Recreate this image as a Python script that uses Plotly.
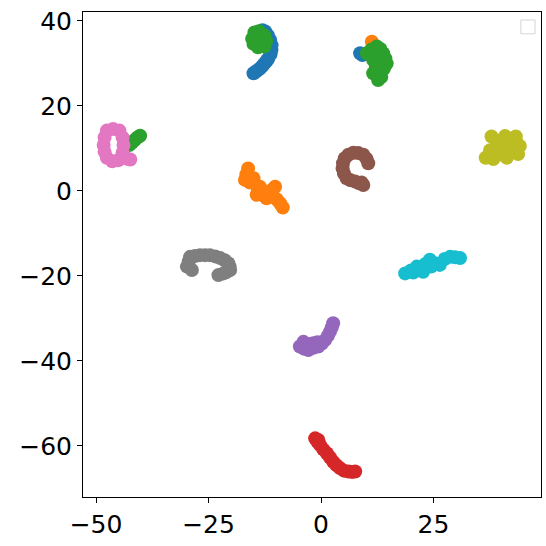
import plotly.graph_objects as go

# cluster point coordinates (t-SNE embedding)
blue_x = [-15.0, -14.6, -14.2, -13.7, -13.2, -12.8, -12.4, -12.0, -11.7, -11.2, -11.0, -11.0, -11.3, -11.8, -12.4, -13.0, 8.7, 9.2]
blue_y = [27.7, 28.0, 28.3, 28.7, 29.2, 29.7, 30.2, 30.7, 31.2, 32.2, 33.2, 34.3, 35.5, 36.6, 37.5, 37.8, 32.4, 32.0]

orange_x = [-16.2, -16.6, -16.9, -15.0, -15.8, -13.6, -14.3, -14.0, -12.1, -13.0, -10.2, -11.0, -10.6, -9.1, -9.8, -8.5, -11.5, -12.6, 11.3]
orange_y = [5.3, 3.9, 2.6, 3.0, 2.0, 1.0, -0.9, 0.2, -1.7, -0.5, 1.0, 0.2, -1.3, -2.9, -2.0, -3.9, -0.6, -1.2, 35.1]

green_x = [-14.8, -13.8, -12.6, -15.3, -15.0, -14.0, -12.6, -12.2,
           10.2, 11.1, 12.4, 13.2, 13.8, 14.6, 14.3, 13.1, 11.6, 11.6, 13.1, 14.0, 11.6, 12.7, 12.2, 12.6, 13.4,
           -42.6, -42.0, -41.4, -40.8, -40.2]
green_y = [37.3, 37.6, 36.6, 35.8, 34.6, 33.8, 34.0, 35.3,
           32.4, 33.2, 34.0, 33.4, 32.4, 30.0, 31.2, 30.8, 30.8, 32.0, 28.5, 28.8, 27.7, 26.1, 29.2, 27.0, 26.8,
           10.8, 11.4, 12.0, 12.6, 13.0]

red_x = [-1.3, -0.8, -0.2, 0.5, 1.3, 2.0, 2.7, 3.4, 4.2, 5.1, 6.1, 6.9, 7.6, -0.6]
red_y = [-58.2, -59.0, -59.8, -60.8, -61.7, -62.7, -63.7, -64.5, -65.2, -65.8, -66.0, -66.1, -66.0, -58.6]

purple_x = [2.7, 2.4, 2.0, 1.5, 0.9, 0.2, -0.6, -1.7, -2.8, -3.8, -4.7, -3.9, -1.7, -2.8, -0.8]
purple_y = [-31.1, -32.1, -33.1, -34.1, -35.1, -35.9, -36.6, -36.9, -37.4, -37.1, -36.6, -35.5, -35.8, -36.0, -35.6]

brown_x = [10.5, 10.1, 9.4, 8.3, 7.2, 6.1, 5.3, 4.9, 4.8, 5.1, 5.7, 6.6, 7.6, 8.5, 9.4, 9.0]
brown_y = [6.5, 7.6, 8.5, 8.9, 9.0, 8.5, 7.7, 6.5, 5.3, 4.1, 3.0, 2.5, 2.2, 1.8, 1.4, 2.0]

pink_x = [-47.6, -46.2, -44.8, -44.1, -43.9, -44.1, -45.1, -46.4, -47.6, -43.2, -42.4, -48.1, -48.3, -48.1]
pink_y = [14.2, 14.6, 14.2, 12.6, 10.8, 9.0, 7.2, 7.0, 7.8, 7.6, 7.4, 12.6, 10.8, 9.2]

gray_x = [-29.8, -29.4, -29.1, -28.0, -26.9, -25.8, -24.7, -23.5, -22.4, -21.4, -20.6, -20.3, -20.2, -21.0, -21.7, -22.8, -28.7]
gray_y = [-17.8, -16.6, -15.5, -15.3, -15.1, -15.1, -15.1, -15.4, -15.8, -16.3, -17.0, -17.8, -18.6, -19.1, -19.4, -19.8, -18.6]

olive_x = [37.9, 40.9, 43.3, 44.2, 43.8, 41.3, 38.3, 36.6, 37.6, 40.5, 42.4, 39.8, 42.6, 39.2, 43.4, 40.0, 41.8, 38.8]
olive_y = [12.8, 12.9, 12.8, 10.6, 8.7, 7.8, 7.5, 7.8, 9.6, 10.0, 10.8, 8.6, 9.4, 11.4, 11.6, 11.2, 12.0, 8.4]

cyan_x = [18.7, 20.0, 21.3, 22.7, 24.2, 25.3, 26.4, 27.5, 28.7, 29.8, 30.9, 20.5, 24.5, 23.2]
cyan_y = [-19.4, -18.7, -17.8, -19.0, -16.2, -17.0, -17.4, -16.0, -15.5, -15.6, -15.8, -19.2, -17.8, -17.2]

x_ticks = [-50, -25, 0, 25]
x_tick_labels = ["−50", "−25", "0", "25"]
y_ticks = [-60, -40, -20, 0, 20, 40]
y_tick_labels = ["−60", "−40", "−20", "0", "20", "40"]

series = [
    (blue_x, blue_y, "#1f77b4"),
    (orange_x, orange_y, "#ff7f0e"),
    (green_x, green_y, "#2ca02c"),
    (red_x, red_y, "#d62728"),
    (purple_x, purple_y, "#9467bd"),
    (brown_x, brown_y, "#8c564b"),
    (pink_x, pink_y, "#e377c2"),
    (gray_x, gray_y, "#7f7f7f"),
    (olive_x, olive_y, "#bcbd22"),
    (cyan_x, cyan_y, "#17becf"),
]

fig = go.Figure()
for xs, ys, c in series:
    fig.add_trace(go.Scatter(x=xs, y=ys, mode="markers",
                             marker=dict(size=14, color=c, line=dict(width=0)),
                             showlegend=False, hoverinfo="skip"))

axis_common = dict(showgrid=False, zeroline=False, showline=True, mirror=True,
                   linecolor="black", linewidth=1, ticks="outside", ticklen=5,
                   tickwidth=1, tickcolor="black", automargin=False,
                   tickfont=dict(family="DejaVu Sans", size=25, color="black"))

fig.update_layout(
    width=546, height=546,
    margin=dict(l=83, r=5, t=12, b=49),
    paper_bgcolor="white", plot_bgcolor="white",
    xaxis=dict(range=[-52.9, 48.9], tickvals=x_ticks, ticktext=x_tick_labels, **axis_common),
    yaxis=dict(range=[-72, 42.1], tickvals=y_ticks, ticktext=y_tick_labels, **axis_common),
    shapes=[dict(type="rect", xref="paper", yref="paper",
                 x0=0.956, x1=0.987, y0=0.955, y1=0.9835,
                 line=dict(color="#d5d5d5", width=1), fillcolor="white")],
)

fig.write_html("out.html", config={"displayModeBar": False},
               post_script="document.body.style.margin='0';document.body.style.overflow='hidden';")
